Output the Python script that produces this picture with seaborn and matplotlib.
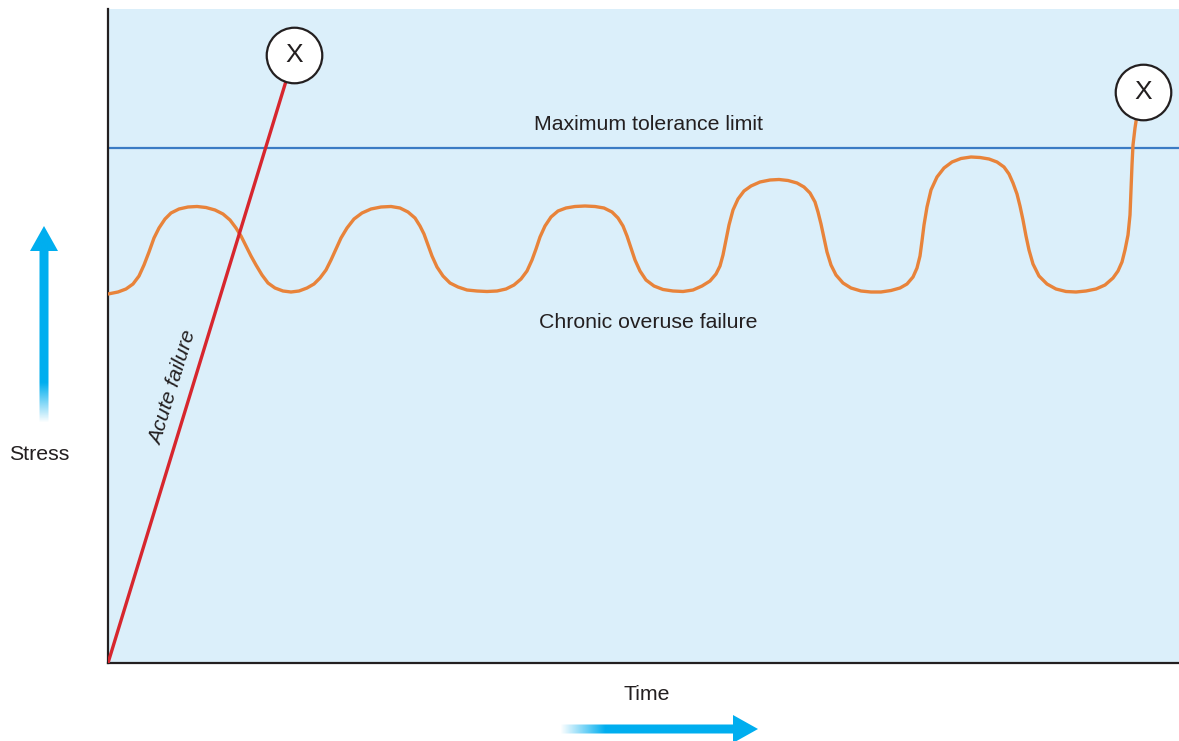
import numpy as np
import matplotlib
matplotlib.use("Agg")
import matplotlib.pyplot as plt
import seaborn as sns
import pandas as pd
from matplotlib.patches import Polygon

# ---------------- data (time / stress units) ----------------
chronic_time = [0, 10, 18, 25, 31, 36, 41, 46, 51, 57, 63, 71, 80, 89, 98, 107, 115, 122,
                128, 133, 138, 143, 148, 154, 160, 167, 175, 183, 191, 199, 206, 212, 218,
                223, 228, 233, 239, 246, 254, 263, 273, 283, 292, 300, 307, 312, 316, 320,
                324, 329, 335, 342, 350, 359, 369, 379, 389, 398, 406, 413, 419, 424, 428,
                432, 437, 443, 450, 458, 467, 477, 487, 496, 504, 510, 515, 519, 523, 527,
                532, 538, 546, 555, 565, 575, 585, 594, 602, 608, 612, 615, 618, 621, 625,
                630, 636, 643, 652, 662, 671, 680, 689, 696, 702, 707, 710, 713, 716, 719,
                723, 728, 735, 743, 753, 763, 773, 783, 792, 799, 805, 809, 812, 814, 816,
                819, 823, 829, 836, 844, 853, 863, 872, 881, 889, 896, 901, 905, 909, 912,
                915, 918, 921, 925, 931, 939, 948, 958, 968, 978, 988, 997, 1005, 1010,
                1014, 1017, 1020, 1022, 1023, 1024, 1025, 1027, 1029]
chronic_stress = [369, 371, 374, 379, 387, 398, 411, 425, 435, 444, 450, 454, 456, 456.5,
                  455.5, 453, 449, 443, 435, 427, 417, 407, 398, 388, 380, 375, 372, 371,
                  372, 375, 379, 385, 393, 403, 414, 425, 435, 444, 450, 454, 456, 456.5,
                  455, 451, 445, 437, 429, 418, 407, 396, 387, 380, 376, 373, 372, 371.5,
                  372, 374, 378, 384, 392, 403, 414, 426, 437, 446, 452, 455, 456.5, 457,
                  456.5, 455, 451, 445, 437, 427, 415, 403, 392, 383, 377, 373.5, 372,
                  371.5, 373, 377, 382, 389, 397, 408, 423, 438, 453, 464, 472, 477, 481,
                  483, 483.5, 482.5, 480, 476, 470, 461, 451, 439, 425, 411, 398, 388, 380,
                  375, 372, 371, 371, 372.5, 375, 379, 386, 395, 407, 422, 438, 456, 473,
                  486, 495, 501, 504.5, 506, 505.5, 504, 501, 496, 489, 480, 469, 457, 443,
                  427, 413, 399, 387, 379, 374, 371.5, 371, 372, 374, 378, 385, 392, 401,
                  413, 428, 448, 473, 498, 518, 535, 548]
acute_time = [0, 186]
acute_stress = [0, 608]
tolerance_limit = 515
failure_time = [186, 1035]
failure_stress = [608, 571]

labels = {
    "tolerance": "Maximum tolerance limit",
    "chronic": "Chronic overuse failure",
    "acute": "Acute failure",
    "x": "Stress",
    "y": "Time",
    "fail": "X",
}

# ---------------- style ----------------
W, H = 1179, 741
sns.set_theme(style="white")
plt.rcParams["font.family"] = ["Liberation Sans", "DejaVu Sans"]
TXT = "#231f20"
BG = "#dbeffa"
ORANGE = "#e8833a"
RED = "#d7262e"
BLUE = "#3b7bc4"
CYAN = "#00aeef"
FS = 15.3

fig = plt.figure(figsize=(W / 100, H / 100), dpi=100)
ax = fig.add_axes([108 / W, (H - 663) / H, (W - 108) / W, (663 - 9) / H])
ax.set_facecolor(BG)
ax.set_xlim(0, W - 108)
ax.set_ylim(0, 663 - 9)
for s in ["top", "right"]:
    ax.spines[s].set_visible(False)
for s in ["left", "bottom"]:
    ax.spines[s].set_color("#231f20")
    ax.spines[s].set_linewidth(1.6)
ax.set_xticks([])
ax.set_yticks([])

chronic = pd.DataFrame({"time": chronic_time, "stress": chronic_stress})
acute = pd.DataFrame({"time": acute_time, "stress": acute_stress})

ax.axhline(tolerance_limit, color=BLUE, lw=1.6, zorder=2)
sns.lineplot(data=chronic, x="time", y="stress", ax=ax, color=ORANGE, lw=2.4,
             sort=False, estimator=None, zorder=3, solid_joinstyle="round",
             solid_capstyle="round")
sns.lineplot(data=acute, x="time", y="stress", ax=ax, color=RED, lw=2.4,
             sort=False, estimator=None, zorder=3)
ax.scatter(failure_time, failure_stress, s=1600, facecolor="white",
           edgecolor="#231f20", linewidth=1.6, zorder=5, clip_on=False)
for fx, fy in zip(failure_time, failure_stress):
    ax.text(fx, fy, labels["fail"], ha="center", va="center", fontsize=19,
            color=TXT, zorder=6)
ax.set_xlabel("")
ax.set_ylabel("")

ax.text(540, 538, labels["tolerance"], ha="center", va="center", fontsize=FS, color=TXT)
ax.text(540, 340, labels["chronic"], ha="center", va="center", fontsize=FS, color=TXT)
ax.text(65, 275, labels["acute"], ha="center", va="center", fontsize=FS, color=TXT,
        rotation=72.8, rotation_mode="anchor", style="italic")

# ---------------- overlay: axis arrows and labels ----------------
ov = fig.add_axes([0, 0, 1, 1], zorder=-1)
ov.set_xlim(0, W)
ov.set_ylim(H, 0)
ov.axis("off")
ov.patch.set_alpha(0)

rgb = np.array(matplotlib.colors.to_rgb(CYAN))

# vertical arrow
vpoly = [(39.5, 423), (39.5, 251), (30, 251), (44, 226), (58, 251), (48.5, 251), (48.5, 423)]
n = 200
ys = np.linspace(226, 423, n)
alpha = np.clip((423 - ys) / 40.0, 0, 1)
img = np.zeros((n, 2, 4))
img[..., :3] = rgb
img[..., 3] = alpha[:, None]
p = Polygon(vpoly, closed=True, facecolor="none", edgecolor="none")
ov.add_patch(p)
im = ov.imshow(img, extent=[30, 58, 423, 226], origin="upper", aspect="auto",
               interpolation="bilinear")
im.set_clip_path(p)

# horizontal arrow
hpoly = [(560, 724.5), (733, 724.5), (733, 715), (758, 729), (733, 743), (733, 733.5), (560, 733.5)]
xs = np.linspace(560, 758, n)
alpha = np.clip((xs - 560) / 45.0, 0, 1)
img2 = np.zeros((2, n, 4))
img2[..., :3] = rgb
img2[..., 3] = alpha[None, :]
p2 = Polygon(hpoly, closed=True, facecolor="none", edgecolor="none")
ov.add_patch(p2)
im2 = ov.imshow(img2, extent=[560, 758, 743, 715], origin="upper", aspect="auto",
                interpolation="bilinear")
im2.set_clip_path(p2)
ov.set_xlim(0, W)
ov.set_ylim(H, 0)

ov.text(39, 454, labels["x"], ha="center", va="center", fontsize=FS, color=TXT)
ov.text(647, 695, labels["y"], ha="center", va="center", fontsize=FS, color=TXT)

fig.savefig("out.png", dpi=100)
